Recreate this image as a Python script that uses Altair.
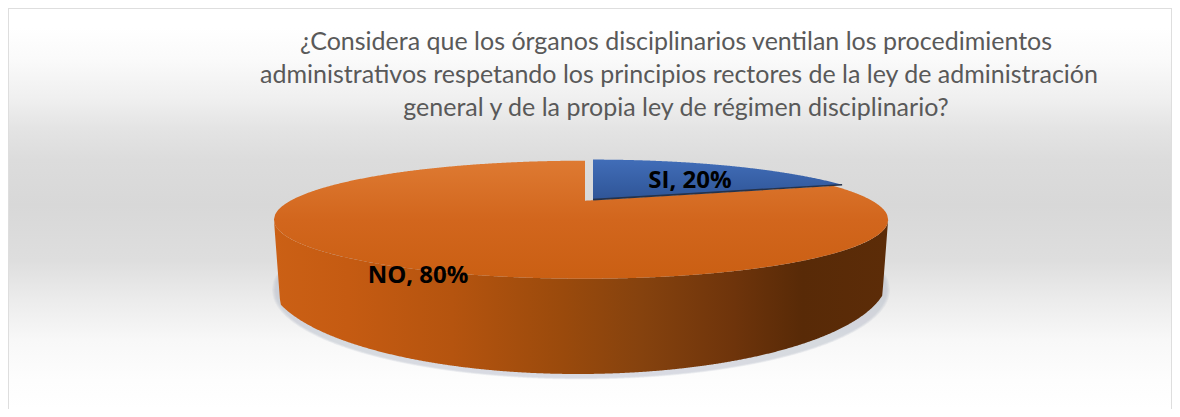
import numpy as np
import pandas as pd
import altair as alt

# ---- chart content
CATEGORIES = ["SI", "NO"]
SHARES = [20, 80]
TITLE_LINES = [
    "¿Considera que los órganos disciplinarios ventilan los procedimientos",
    "administrativos respetando los principios rectores de la ley de administración",
    "general y de la propia ley de régimen disciplinario?",
]

# ---- canvas (page margin is 8px; scales map image pixels to the plot)
W, H = 1164, 401
OX, OY = 8, 8
xs = alt.Scale(domain=[OX, OX + W], range=[0, W], nice=False, zero=False)
ys = alt.Scale(domain=[OY, OY + H], range=[0, H], nice=False, zero=False)
X = alt.X("x:Q", scale=xs, axis=None)
Y = alt.Y("y:Q", scale=ys, axis=None, stack=None)

# ---- 3-D pie projection (tilted disc seen in perspective)
P, B = 0.322, 52.9


def project(t, x0, y0, ax_l, ax_r):
    sx_, cy_ = np.sin(t), np.cos(t)
    w = 1 + P * cy_
    ax = np.where(sx_ < 0, ax_l, ax_r)
    return x0 + ax * sx_ / w, y0 - B * cy_ / w


def frame(x, y, y2):
    return pd.DataFrame({"x": x, "y": y, "ylow": y2, "i": np.arange(len(x))})


end = 2 * np.pi * SHARES[0] / 100

# orange slice (top face)
O_X, O_Y = 585.0, 200.7
t = np.linspace(end, 2 * np.pi, 1400)
px, py = project(t, O_X, O_Y, 294.5, 287.0)
ir, il = int(np.argmax(px)), int(np.argmin(px))
right_x, left_x = px[ir], px[il]
up_r_x = np.r_[O_X, px[: ir + 1]]
up_r_y = np.r_[O_Y, py[: ir + 1]]
low_x, low_y = px[ir: il + 1][::-1], py[ir: il + 1][::-1]
up_l_x, up_l_y = px[il:], py[il:]

xl = np.linspace(left_x, O_X, 260)
xr = np.linspace(O_X, right_x, 340)
orange = frame(
    np.r_[xl, xr],
    np.r_[np.interp(xl, up_l_x, up_l_y), np.interp(xr, up_r_x, up_r_y)],
    np.r_[np.interp(xl, low_x, low_y), np.interp(xr, low_x, low_y)],
)

# blue slice (exploded a little)
S_X, S_Y = 593.0, 199.6
tb = np.linspace(0, end, 300)
bx, by = project(tb, S_X, S_Y, 288.0, 288.0)
xb = np.linspace(S_X, bx[-1], 260)
blue = frame(xb, np.interp(xb, bx, by),
             S_Y + (by[-1] - S_Y) * (xb - S_X) / (bx[-1] - S_X))
blue_edge = pd.DataFrame({"x": [S_X, bx[-1]], "y": [S_Y, by[-1]], "i": [0, 1]})

# wall
xw = np.linspace(left_x, right_x, 620)
cxb, cyb, rxb, ryb = 578.0, 277.0, 310.0, 97.0
bottom = cyb + ryb * np.sqrt(np.clip(1 - ((xw - cxb) / rxb) ** 2, 0, 1))
edge_l = 219.7 + (xw - left_x) / 6 * 80
edge_r = 219.7 + (right_x - xw) / 6 * 78
wall = frame(xw, np.interp(xw, low_x, low_y), np.minimum(np.minimum(bottom, edge_l), edge_r))


def ellipse(cx, cy, rx, ry):
    x = np.linspace(cx - rx, cx + rx, 500)
    d = ry * np.sqrt(np.clip(1 - ((x - cx) / rx) ** 2, 0, 1))
    return frame(x, cy - d, cy + d)


def grad(stops, horizontal=False):
    return alt.Gradient(
        gradient="linear",
        stops=[alt.GradientStop(color=c, offset=o) for o, c in stops],
        x1=0, x2=1 if horizontal else 0, y1=0, y2=0 if horizontal else 1,
    )


def area(df, color, **kw):
    return alt.Chart(df).mark_area(orient="vertical", color=color, line=False, **kw).encode(
        x=alt.X("x:Q", scale=xs, axis=None, sort=None),
        y=alt.Y("y:Q", scale=ys, axis=None, stack=None),
        y2=alt.Y2("ylow:Q"),
    )


background = alt.Chart(pd.DataFrame({"a": [0]})).mark_rect(
    color=grad([(0, "#ffffff"), (0.05, "#ffffff"), (0.13, "#fafafa"), (0.23, "#efefef"),
                (0.30, "#e4e4e4"), (0.38, "#dcdcdc"), (0.49, "#d8d8d8"), (0.63, "#dedede"),
                (0.73, "#ececec"), (0.83, "#f8f8f8"), (0.93, "#fdfdfd"), (1, "#ffffff")]),
).encode(x=alt.value(0), x2=alt.value(W), y=alt.value(0), y2=alt.value(H))

frame_line = alt.Chart(pd.DataFrame({"a": [0]})).mark_rect(
    fill=None, stroke="#dedede", strokeWidth=2,
).encode(x=alt.value(0), x2=alt.value(W), y=alt.value(0), y2=alt.value(H + 30))

shadows = [
    area(ellipse(581, 290, 306 + d, 88 + d * 0.5), "#a9b0c2", opacity=0.13)
    for d in (3, 2, 1, 0)
]

wall_mark = area(wall, grad([(0, "#cb6015"), (0.12, "#c55b12"), (0.29, "#b5540f"), (0.47, "#9a4a0c"),
                             (0.6, "#85420e"), (0.75, "#6e340b"), (0.86, "#582a07"), (1, "#5c2c08")],
                            horizontal=True))
top_mark = area(orange, grad([(0, "#de7a32"), (0.5, "#d2661d"), (1, "#ca5f13")]))
blue_mark = area(blue, grad([(0, "#416db8"), (1, "#2f5597")]))
blue_line = alt.Chart(blue_edge).mark_line(color="#25324a", strokeWidth=1.6).encode(
    x=X, y=Y, order=alt.Order("i:Q"))

title_df = pd.DataFrame({"x": [676, 679, 676], "y": [42, 75, 108], "t": TITLE_LINES})
title_mark = alt.Chart(title_df).mark_text(
    font="Lato", fontSize=25, color="#595959", align="center", baseline="middle"
).encode(x=X, y=Y, text="t:N")

label_df = pd.DataFrame({
    "x": [690, 418],
    "y": [181, 276],
    "t": [f"{c}, {v}%" for c, v in zip(CATEGORIES, SHARES)],
})
label_mark = alt.Chart(label_df).mark_text(
    font="Open Sans", fontSize=24, fontWeight="bold", color="#000000", align="center", baseline="middle"
).encode(x=X, y=Y, text="t:N")

chart = alt.layer(
    background, frame_line, *shadows, wall_mark, top_mark, blue_mark, blue_line, title_mark, label_mark
).properties(
    width=W, height=H, padding=0, autosize=alt.AutoSizeParams(type="none"),
).configure_view(stroke=None)

chart.save("out.html", embed_options={"renderer": "svg", "actions": False})
